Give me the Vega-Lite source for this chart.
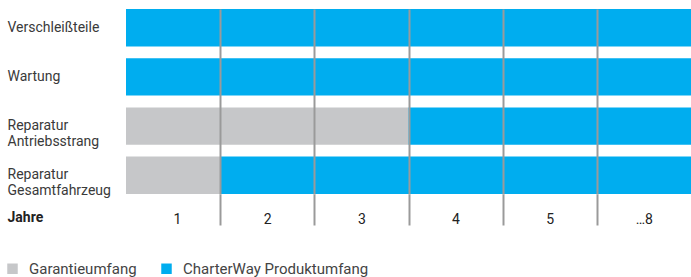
{
  "$schema": "https://vega.github.io/schema/vega-lite/v6.json",
  "autosize": {"type": "none"},
  "width": 565,
  "height": 185,
  "padding": {"left": 126, "top": 9, "right": 0, "bottom": 83},
  "background": "white",
  "config": {
    "view": {"stroke": null},
    "font": "Roboto",
    "axis": {"labelFont": "Roboto", "titleFont": "Roboto"},
    "legend": {"labelFont": "Roboto"}
  },
  "data": {
    "values": [
      {"row": "Verschleißteile", "start": 0, "end": 6, "typ": "CharterWay Produktumfang"},
      {"row": "Wartung", "start": 0, "end": 6, "typ": "CharterWay Produktumfang"},
      {"row": "Reparatur|Antriebsstrang", "start": 0, "end": 3, "typ": "Garantieumfang"},
      {"row": "Reparatur|Antriebsstrang", "start": 3, "end": 6, "typ": "CharterWay Produktumfang"},
      {"row": "Reparatur|Gesamtfahrzeug", "start": 0, "end": 1, "typ": "Garantieumfang"},
      {"row": "Reparatur|Gesamtfahrzeug", "start": 1, "end": 6, "typ": "CharterWay Produktumfang"}
    ]
  },
  "mark": {"type": "bar", "cornerRadius": 0},
  "encoding": {
    "y": {
      "field": "row",
      "type": "nominal",
      "sort": ["Verschleißteile", "Wartung", "Reparatur|Antriebsstrang", "Reparatur|Gesamtfahrzeug"],
      "scale": {"paddingInner": 0.24, "paddingOuter": 0},
      "axis": {
        "title": null,
        "domain": false,
        "ticks": false,
        "tickSize": 0,
        "labelAlign": "left",
        "labelBaseline": "middle",
        "labelPadding": 119,
        "labelFontSize": 14,
        "labelLineHeight": 16,
        "labelColor": "#3a3a3a",
        "labelExpr": "split(datum.label, '|')"
      }
    },
    "x": {
      "field": "start",
      "type": "quantitative",
      "scale": {"domain": [0, 6], "nice": false, "zero": false},
      "axis": {
        "title": "Jahre",
        "titleX": -119,
        "titleY": 23,
        "titleAlign": "left",
        "titleBaseline": "middle",
        "titleFontWeight": "bold",
        "titleFontSize": 14,
        "titleColor": "#222222",
        "values": [0, 1, 2, 3, 4, 5],
        "labelExpr": "datum.value == 5 ? '…8' : format(datum.value + 1, 'd')",
        "labelOffset": 47,
        "labelFontSize": 14,
        "labelColor": "#222222",
        "labelPadding": -13,
        "labelBaseline": "top",
        "domain": false,
        "grid": true,
        "gridColor": {"condition": {"test": "datum.value == 0", "value": "transparent"}, "value": "#9a9a9a"},
        "gridWidth": 2,
        "tickSize": 31,
        "tickWidth": 2,
        "tickColor": {"condition": {"test": "datum.value == 0", "value": "transparent"}, "value": "#9a9a9a"},
        "zindex": 1
      }
    },
    "x2": {"field": "end"},
    "color": {
      "field": "typ",
      "type": "nominal",
      "scale": {"domain": ["Garantieumfang", "CharterWay Produktumfang"], "range": ["#c6c7c9", "#00adef"]},
      "legend": {
        "title": null,
        "orient": "none",
        "direction": "horizontal",
        "legendX": -121,
        "legendY": 252,
        "symbolType": "square",
        "symbolSize": 110,
        "symbolStrokeWidth": 0,
        "labelFontSize": 15,
        "labelLimit": 400,
        "labelColor": "#444444",
        "labelOffset": 9,
        "columnPadding": 22
      }
    }
  }
}
